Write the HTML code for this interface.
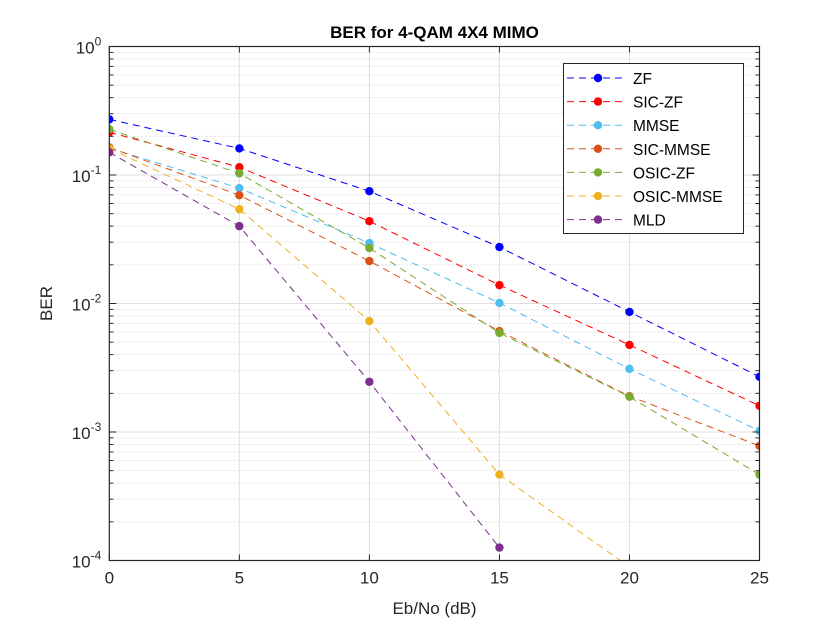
<!DOCTYPE html>
<html><head><meta charset="utf-8"><style>
html,body{margin:0;padding:0;background:#fff;width:840px;height:630px;overflow:hidden;}
svg{display:block;font-family:"Liberation Sans",Arial,sans-serif;}
</style></head><body>
<svg id="chart" width="840" height="630" viewBox="0 0 840 630" xmlns="http://www.w3.org/2000/svg">
<rect width="840" height="630" fill="#fff"/>
<defs><clipPath id="clip"><rect x="109" y="46.5" width="651" height="514"/></clipPath></defs>
<g id="grid"></g>
<g id="series" clip-path="url(#clip)"></g>
<g id="axes"></g>
<text x="434.5" y="38" text-anchor="middle" font-size="17" font-weight="bold" fill="#000">BER for 4-QAM 4X4 MIMO</text>
<text x="434.5" y="614" text-anchor="middle" font-size="17" fill="#262626">Eb/No (dB)</text>
<text transform="translate(52,303.5) rotate(-90)" text-anchor="middle" font-size="17" fill="#262626">BER</text>
<g id="legend"></g>
</svg>
<script>
const snr = [0, 5, 10, 15, 20, 25];
const seriesNames = ["ZF","SIC-ZF","MMSE","SIC-MMSE","OSIC-ZF","OSIC-MMSE","MLD"];
const seriesColors = ["#0000ff","#ff0000","#4dbeee","#d95319","#77ac30","#edb120","#7e2f8e"];
const zf = [0.271, 0.161, 0.0748, 0.0275, 0.0086, 0.00269];
const sicZf = [0.215, 0.115, 0.0437, 0.0139, 0.00476, 0.0016];
const mmse = [0.162, 0.079, 0.0295, 0.0101, 0.0031, 0.00102];
const sicMmse = [0.164, 0.0696, 0.0214, 0.0061, 0.0019, 0.00078];
const osicZf = [0.227, 0.103, 0.027, 0.0059, 0.00188, 0.000466];
const osicMmse = [0.161, 0.0542, 0.0073, 0.000466, 0.000089, 0.0000175];
const mld = [0.150, 0.040, 0.00246, 0.000126, null, null];
const xTicks = [0, 5, 10, 15, 20, 25];
const yDecades = [0, -1, -2, -3, -4];

const NS="http://www.w3.org/2000/svg";
const X0=109.3, X1=759.5, YT=46.5, YB=560.5;
const xs = v => X0 + (v-0)/(25-0)*(X1-X0);
const ys = v => YT + (-Math.log10(v))/4*(YB-YT);
function mk(tag, attrs, parent){const e=document.createElementNS(NS,tag);for(const k in attrs)e.setAttribute(k,attrs[k]);parent.appendChild(e);return e;}
const grid=document.getElementById('grid'), axes=document.getElementById('axes'), ser=document.getElementById('series'), leg=document.getElementById('legend');

for(let d=0; d>-4; d--){
  for(let m=2;m<=9;m++){
    const y=ys(m*Math.pow(10,d-1));
    const l=mk('line',{x1:X0,x2:X1,y1:y,y2:y,stroke:'#dcdcdc','stroke-width':0.8,'stroke-dasharray':'2,2'},grid);
    
    
    const t1=mk('line',{x1:X0,x2:X0+4,y1:y,y2:y,stroke:'#262626','stroke-width':1},axes);
    
    
    mk('line',{x1:X1,x2:X1-4,y1:y,y2:y,stroke:'#262626','stroke-width':1},axes);
  }
}
yDecades.forEach(d=>{
  const y=ys(Math.pow(10,d));
  const l=mk('line',{x1:X0,x2:X1,y1:y,y2:y,stroke:'#dfdfdf','stroke-width':1},grid);
  
  
  mk('line',{x1:X0,x2:X0+7,y1:y,y2:y,stroke:'#262626'},axes);
  mk('line',{x1:X1,x2:X1-7,y1:y,y2:y,stroke:'#262626'},axes);
  const t=mk('text',{x:X0-8,y:y+7,'text-anchor':'end','font-size':17,fill:'#262626'},axes);
  
  
  t.textContent='10';
  const s=mk('tspan',{dy:-8,'font-size':12},t); s.textContent=String(d);
});
xTicks.forEach(v=>{
  const x=xs(v);
  const l=mk('line',{x1:x,x2:x,y1:YT,y2:YB,stroke:'#dfdfdf','stroke-width':1},grid);
  
  
  mk('line',{x1:x,x2:x,y1:YB,y2:YB-6,stroke:'#262626'},axes);
  mk('line',{x1:x,x2:x,y1:YT,y2:YT+6,stroke:'#262626'},axes);
  const t=mk('text',{x:x,y:YB+23,'text-anchor':'middle','font-size':17,fill:'#262626'},axes);
  
  
  t.textContent=String(v);
});
const frame=mk('rect',{x:X0,y:YT,width:X1-X0,height:YB-YT,fill:'none',stroke:'#262626','stroke-width':1.2},axes);



const allData=[zf,sicZf,mmse,sicMmse,osicZf,osicMmse,mld];
allData.forEach((arr,i)=>{
  const c=seriesColors[i];
  const g=mk('g',{},ser);
  
  
  const pts=[];
  arr.forEach((v,j)=>{ if(v!=null) pts.push([xs(snr[j]),ys(v)]); });
  const p=mk('polyline',{points:pts.map(q=>q.join(',')).join(' '),fill:'none',stroke:c,'stroke-width':1,'stroke-dasharray':'7,5'},g);
  
  
  pts.forEach(q=>{
    const m=mk('circle',{cx:q[0],cy:q[1],r:4.2,fill:c},g);
    
    
  });
});

const box=mk('rect',{x:563.5,y:63.5,width:180,height:170,fill:'#fff',stroke:'#262626','stroke-width':1},leg);


seriesNames.forEach((n,i)=>{
  const y=78+i*23.6;
  const g=mk('g',{},leg);
  
  
  mk('line',{x1:567,x2:626,y1:y,y2:y,stroke:seriesColors[i],'stroke-width':1,'stroke-dasharray':'7,5'},g);
  mk('circle',{cx:598,cy:y,r:4.2,fill:seriesColors[i]},g);
  const t=mk('text',{x:633,y:y+6,'font-size':15.5,fill:'#000'},g);
  t.textContent=n;
});
</script>
</body></html>
